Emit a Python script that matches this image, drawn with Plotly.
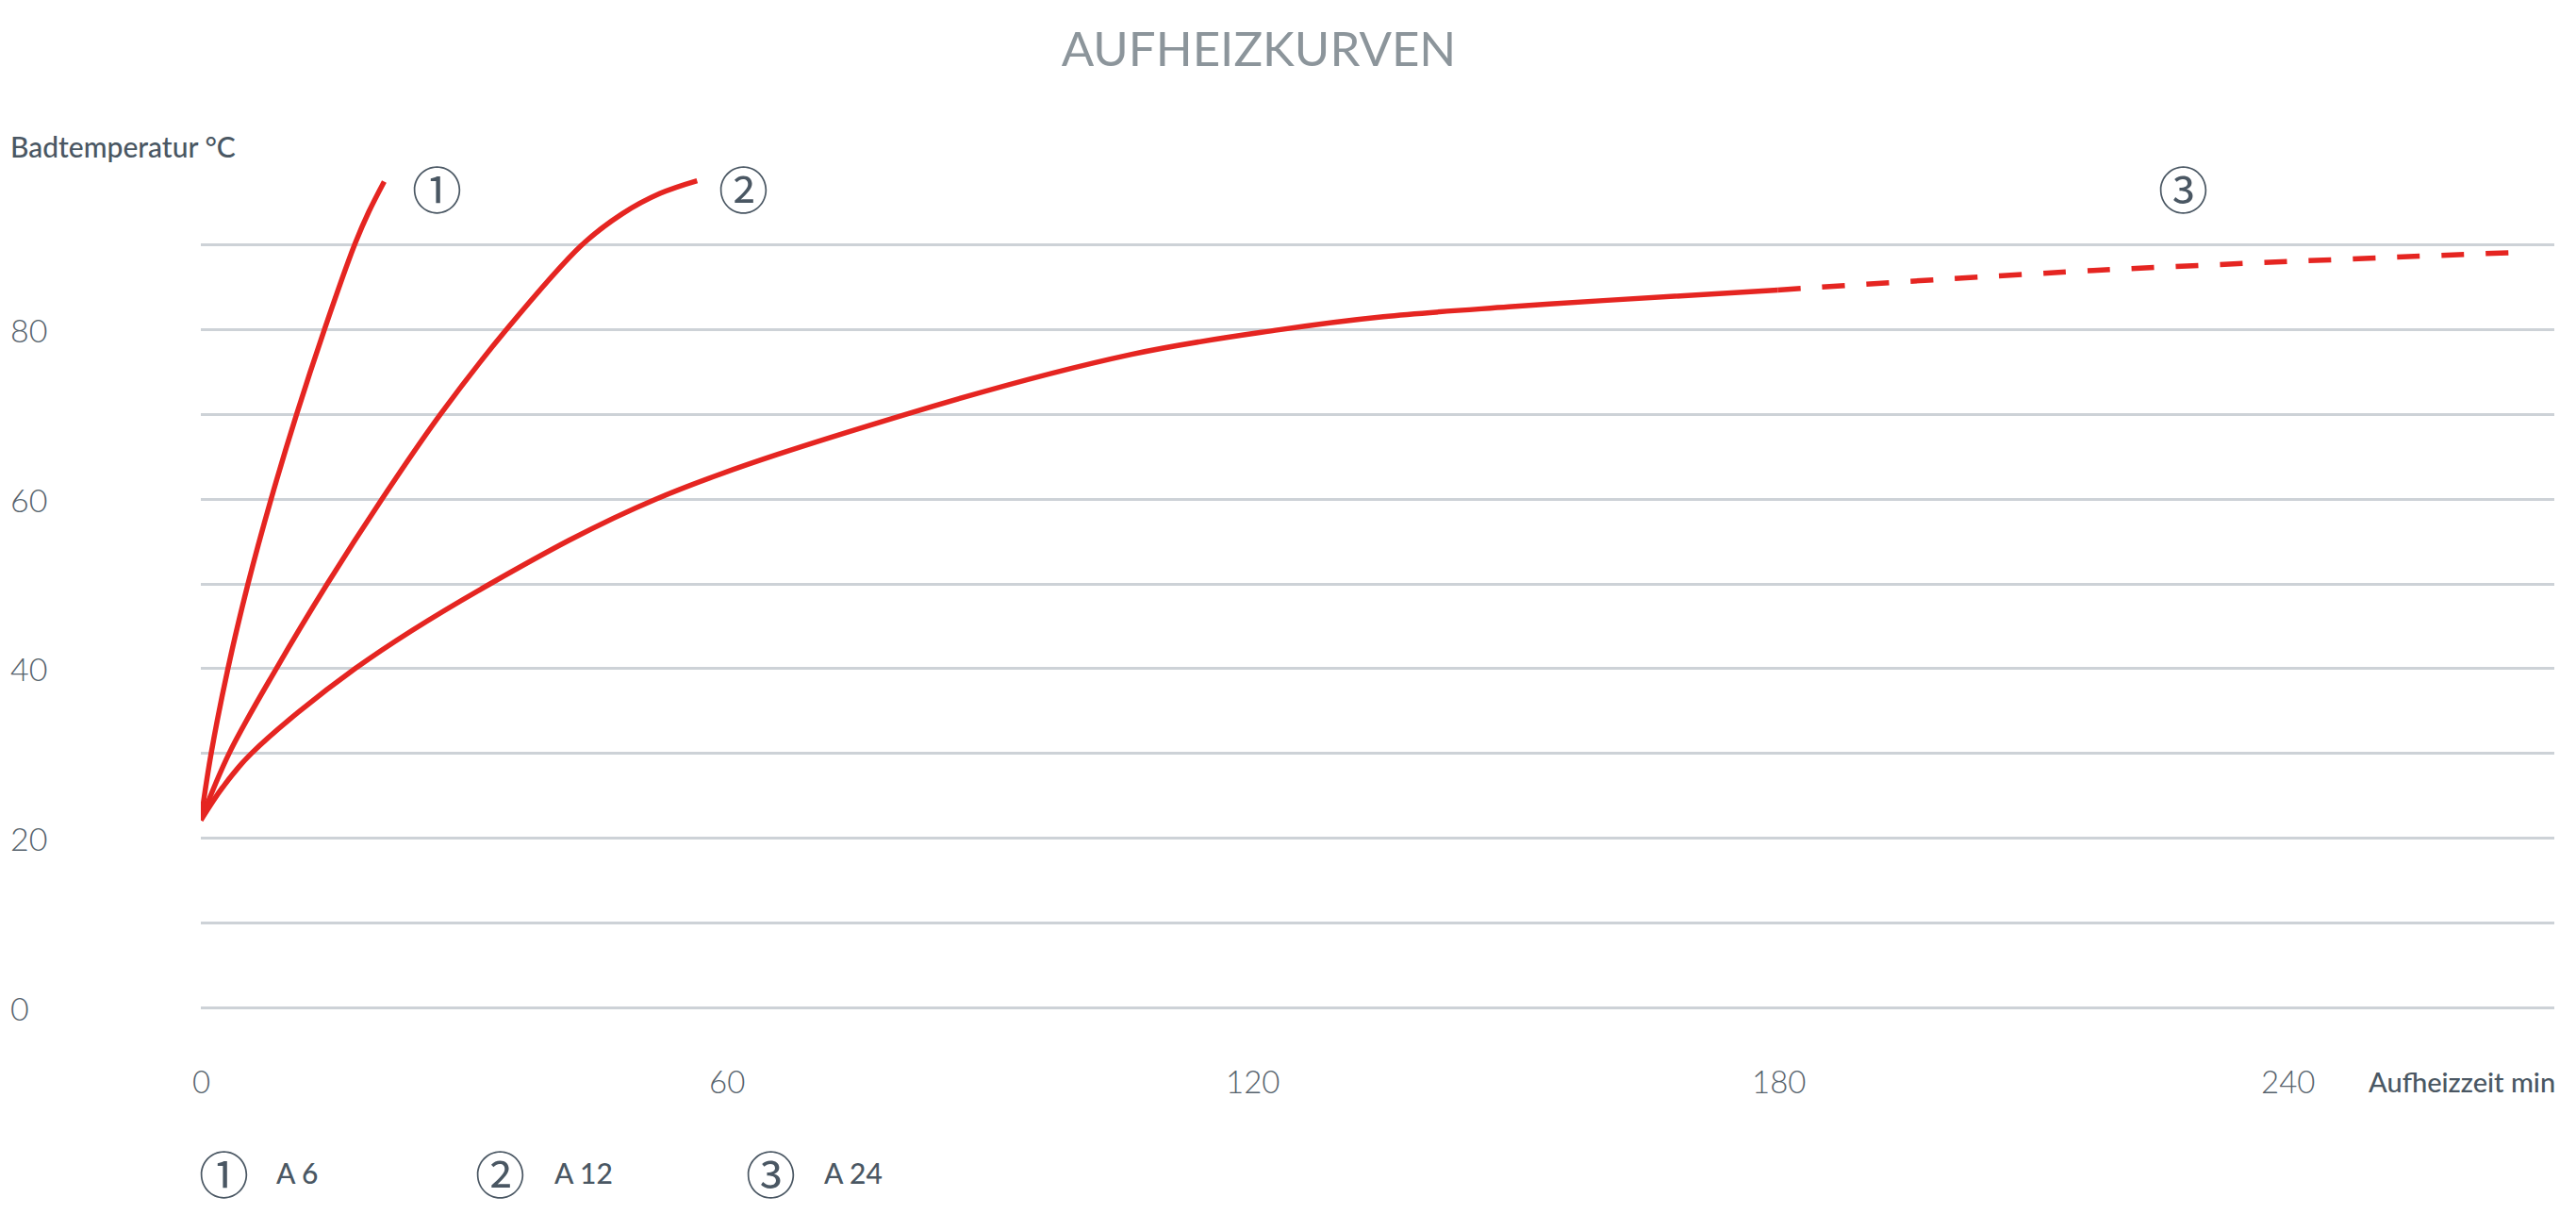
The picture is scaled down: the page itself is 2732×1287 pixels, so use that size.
import plotly.graph_objects as go

# ---------------- data ----------------
a6_min = [0, 1.18, 3.09, 5.38, 8.01, 10.92, 14.09, 17.53, 19.15, 20.92]
a6_temp = [22.1, 30, 40, 50, 60, 70, 80, 90, 93.9, 97.5]

a12_min = [0, 3.23, 8.61, 14.42, 20.65, 27.32, 34.85, 43.46, 48.08, 52.39, 56.62]
a12_temp = [22.1, 30, 40, 50, 60, 70, 80, 90, 93.7, 96.1, 97.6]

a24_min = [0, 2.5, 5.78, 17.6, 33.0, 51.9, 80.4, 106.2, 123.0, 134.9, 149.2, 160.0, 179.9]
a24_temp = [22.1, 26.0, 30, 40, 50, 60, 70, 77.1, 80, 81.55, 82.7, 83.45, 84.7]

a24_ext_min = [179.9, 215.9, 263.4]
a24_ext_temp = [84.7, 87.0, 89.1]

y_grid_vals = [0, 10, 20, 30, 40, 50, 60, 70, 80, 90]
y_label_vals = [0, 20, 40, 60, 80]
x_label_vals = [0, 60, 120, 180, 240]

curve_marks = ["①", "②", "③"]
curve_mark_pos_min = [27.0, 61.9, 226.2]
curve_mark_pos_temp = [96.8, 96.8, 96.8]

legend_names = ["A 6", "A 12", "A 24"]

title_text = "AUFHEIZKURVEN"
y_title = "Badtemperatur °C"
x_title = "Aufheizzeit min"

# ---------------- style ----------------
W, H = 2732, 1287
ML, MR, MT, MB = 213, 23, 170, 219
RED = "#e52521"
GRID = "#cdd2d7"
TICK = "#56626c"
DARK = "#4a5763"
TITLE = "#8c959b"
FONT = "Lato"
CIRC_FONT = "Noto Sans CJK JP"


def px_x(X):
    return (X - ML) / (W - ML - MR)


def px_y(Y):
    return (H - MB - Y) / (H - MT - MB)


fig = go.Figure()
line_style = dict(color=RED, width=5.5, shape="spline", smoothing=1.0)
fig.add_trace(go.Scatter(x=a6_min, y=a6_temp, mode="lines", line=line_style, name="A 6"))
fig.add_trace(go.Scatter(x=a12_min, y=a12_temp, mode="lines", line=line_style, name="A 12"))
fig.add_trace(go.Scatter(x=a24_min, y=a24_temp, mode="lines", line=line_style, name="A 24"))
fig.add_trace(go.Scatter(x=a24_ext_min, y=a24_ext_temp, mode="lines",
                         line=dict(color=RED, width=5.5, shape="spline", dash="24px,23px"),
                         name="A 24 ext"))

ann = []
# y tick labels (left aligned)
for v in y_label_vals:
    ann.append(dict(text=str(v), xref="paper", x=px_x(9), xanchor="left",
                    yref="y", y=v, yanchor="middle", showarrow=False,
                    font=dict(family=FONT, size=34, color=TICK, weight=300)))
# x tick labels
for v in x_label_vals:
    ann.append(dict(text=str(v), xref="x", x=v, xanchor="center",
                    xshift=-18 if v == 240 else 0,
                    yref="paper", y=px_y(1146), yanchor="middle", showarrow=False,
                    font=dict(family=FONT, size=33, color=TICK, weight=300)))
# axis titles
ann.append(dict(text=x_title, xref="paper", x=px_x(2712), xanchor="right",
                yref="paper", y=px_y(1146), yanchor="middle", showarrow=False,
                font=dict(family=FONT, size=29, color=DARK, weight=500)))
ann.append(dict(text=y_title, xref="paper", x=px_x(9), xanchor="left",
                yref="paper", y=px_y(155), yanchor="middle", showarrow=False,
                font=dict(family=FONT, size=30, color=DARK, weight=500)))
# curve markers
for m, xm, ym in zip(curve_marks, curve_mark_pos_min, curve_mark_pos_temp):
    ann.append(dict(text=m, xref="x", x=xm, yref="y", y=ym, showarrow=False,
                    xanchor="center", yanchor="middle",
                    font=dict(family=CIRC_FONT, size=53, color=DARK)))
# bottom legend
leg_circle_x = [237, 530, 817]
leg_text_x = [291, 586, 872]
for m, nm, cx, tx in zip(curve_marks, legend_names, leg_circle_x, leg_text_x):
    ann.append(dict(text=m, xref="paper", x=px_x(cx), xanchor="center",
                    yref="paper", y=px_y(1243), yanchor="middle", showarrow=False,
                    font=dict(family=CIRC_FONT, size=53, color=DARK)))
    ann.append(dict(text=nm, xref="paper", x=px_x(tx), xanchor="left",
                    yref="paper", y=px_y(1243), yanchor="middle", showarrow=False,
                    font=dict(family=FONT, size=30, color=DARK, weight=500)))

fig.update_layout(
    width=W, height=H,
    margin=dict(l=ML, r=MR, t=MT, b=MB, pad=0),
    paper_bgcolor="white", plot_bgcolor="white",
    showlegend=False,
    title=dict(text=title_text, x=1335 / W, xanchor="center", xref="container",
               y=1 - 52 / H, yanchor="middle", yref="container",
               font=dict(family=FONT, size=51, color=TITLE, weight=400)),
    xaxis=dict(range=[0, 268.5], showgrid=False, zeroline=False, showline=False,
               showticklabels=False, ticks=""),
    yaxis=dict(range=[0, 100], tickvals=y_grid_vals, showgrid=True, gridcolor=GRID,
               gridwidth=3, zeroline=True, zerolinecolor=GRID, zerolinewidth=3,
               showline=False, showticklabels=False, ticks=""),
    annotations=ann,
)

fig.write_html("out.html", config={"displayModeBar": False},
               post_script="document.body.style.margin='0px';")
